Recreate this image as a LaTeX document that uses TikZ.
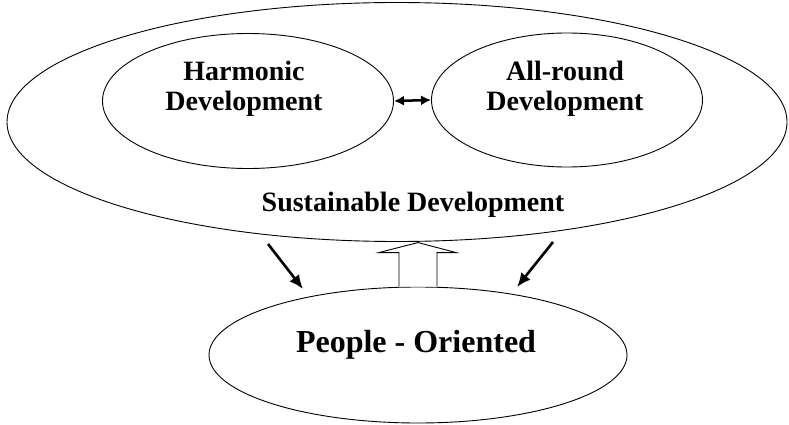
\documentclass[tikz,border=0pt]{standalone}
\usepackage{fontspec}
\setmainfont{Liberation Serif}
\usetikzlibrary{calc,shapes.geometric,arrows.meta}

\tikzset{
  oval/.style={draw,ellipse,inner sep=0pt,line width=0.9pt},
  label/.style={font=\bfseries\fontsize{28}{30}\selectfont,align=center},
  bold arrow/.style={line width=2.6pt,-{Latex[length=14pt,width=12pt]}},
}

\begin{document}
\begin{tikzpicture}[x=1pt,y=-1pt]
\useasboundingbox (0,0) rectangle (789,425);
%outer ellipse
\node[oval,minimum width=780,minimum height=239] (sust) at (397,122) {};
\node[label] (sustlbl) at (413,205) {Sustainable Development};
%inner ellipses
\node[oval,minimum width=291,minimum height=135] (harm) at (248,101) {};
\node[oval,minimum width=271,minimum height=134] (allr) at (567,100) {};
\node[label] (harmlbl) at (244,89) {Harmonic\\Development};
\node[label] (allrlbl) at (565,89) {All-round\\Development};
\draw[line width=2.5pt,{Latex[length=10pt,width=10pt]}-{Latex[length=10pt,width=10pt]}]
  (harm.east) -- (allr.west);
%bottom ellipse
\node[oval,minimum width=418,minimum height=136] (people) at (418,355) {};
\node[label,font=\bfseries\fontsize{32}{34}\selectfont] (peoplelbl) at (416,345) {People - Oriented};
%arrows
\coordinate (la) at (268,244);
\coordinate (lb) at (303,289);
\coordinate (ra) at (553,242);
\coordinate (rb) at (517,287);
\draw[bold arrow] (la) -- (lb);
\draw[bold arrow] (ra) -- (rb);
%hollow arrow
\draw[line width=0.9pt,fill=white,line join=miter]
  ($(people.north)+(-19,0)$) -- ++(0,-34) -- ++(-20,0) -- ($(people.north)+(0,-44)$)
  -- ($(people.north)+(38,-34)$) -- ++(-19,0) -- ($(people.north)+(19,0)$);
\end{tikzpicture}
\end{document}
